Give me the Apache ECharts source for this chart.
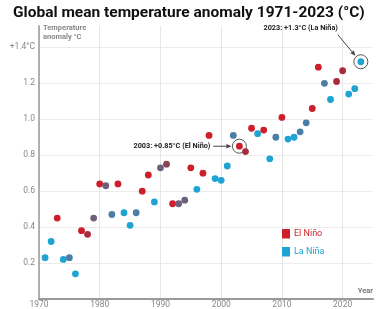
<!DOCTYPE html>
<html>
<head>
<meta charset="utf-8">
<script src="https://cdn.jsdelivr.net/npm/echarts@6/dist/echarts.min.js"></script>
<style>
  html, body { margin: 0; padding: 0; background: #fff; }
  #chart { width: 382px; height: 309px; }
</style>
</head>
<body>
<div id="chart"></div>
<script>
// one point per year, 1971-2023
const years = [
  1971, 1972, 1973, 1974, 1975, 1976, 1977, 1978, 1979, 1980,
  1981, 1982, 1983, 1984, 1985, 1986, 1987, 1988, 1989, 1990,
  1991, 1992, 1993, 1994, 1995, 1996, 1997, 1998, 1999, 2000,
  2001, 2002, 2003, 2004, 2005, 2006, 2007, 2008, 2009, 2010,
  2011, 2012, 2013, 2014, 2015, 2016, 2017, 2018, 2019, 2020,
  2021, 2022, 2023
]
const anomalies = [
  0.23, 0.32, 0.45, 0.22, 0.23, 0.14, 0.38, 0.36, 0.45, 0.64,
  0.63, 0.47, 0.64, 0.48, 0.41, 0.48, 0.60, 0.69, 0.54, 0.73,
  0.75, 0.53, 0.53, 0.55, 0.73, 0.61, 0.70, 0.91, 0.67, 0.66,
  0.74, 0.91, 0.85, 0.82, 0.95, 0.92, 0.94, 0.78, 0.90, 1.01,
  0.89, 0.90, 0.93, 0.98, 1.06, 1.29, 1.20, 1.11, 1.21, 1.27,
  1.14, 1.17, 1.32
]
// E = El Niño, e = weak El Niño, m / n = neutral, l = weak La Niña, L = La Niña
const enso = [
  'L', 'L', 'E', 'L', 'l', 'L', 'E', 'e', 'n', 'E',
  'n', 'l', 'E', 'L', 'L', 'l', 'E', 'E', 'L', 'n',
  'm', 'E', 'n', 'n', 'E', 'L', 'E', 'E', 'L', 'L',
  'L', 'l', 'E', 'e', 'E', 'L', 'E', 'L', 'l', 'E',
  'L', 'L', 'l', 'l', 'E', 'E', 'l', 'L', 'e', 'e',
  'L', 'L', 'L'
]
const xTicks = [1970, 1980, 1990, 2000, 2010, 2020]
const yTicks = [0.2, 0.4, 0.6, 0.8, 1.0, 1.2, 1.4]
const highlighted = [2003, 2023]
const notes = ['2003: +0.85°C (El Niño)', '2023: +1.3°C (La Niña)']

const ensoColors = {
  E: '#cc1f2a',
  e: '#a92c3c',
  m: '#8a4257',
  n: '#6f6079',
  l: '#4a7ea5',
  L: '#1ea3d3'
}
const RED = '#cc1f2a'
const BLUE = '#1ea3d3'
const FONT = 'Roboto'

const points = years.map((y, i) => ({
  value: [y, anomalies[i]],
  itemStyle: { color: ensoColors[enso[i]], opacity: 1 }
}))
const rings = highlighted.map(y => [y, anomalies[years.indexOf(y)]])

const option = {
  animation: false,
  textStyle: { fontFamily: FONT },
  title: {
    text: 'Global mean temperature anomaly 1971-2023 (°C)',
    left: 13,
    top: 5,
    padding: 0,
    textStyle: { fontFamily: FONT, fontSize: 15.5, fontWeight: 'bold', color: '#111' }
  },
  grid: { left: 39, right: 9, top: 25.8, bottom: 9 },
  xAxis: {
    type: 'value',
    min: 1970,
    max: 2025,
    interval: 10,
    axisLine: { lineStyle: { color: '#9a9a9a', width: 2 } },
    axisTick: { show: false },
    axisLabel: {
      color: '#888', fontSize: 8.5, margin: 1, showMaxLabel: false,
      formatter: v => xTicks.includes(v) ? String(v) : ''
    },
    splitLine: {
      show: true,
      lineStyle: { color: ['#e6e6e6', '#e6e6e6', '#e6e6e6', '#e6e6e6', '#e6e6e6', '#e6e6e6', 'rgba(0,0,0,0)'], width: 1 }
    }
  },
  yAxis: {
    type: 'value',
    min: 0,
    max: 1.52,
    interval: 0.2,
    axisLine: { show: true, lineStyle: { color: '#9a9a9a', width: 1.5 } },
    axisTick: { show: false },
    axisLabel: {
      color: '#888', fontSize: 8.5, margin: 4,
      formatter: v => {
        const t = yTicks.find(k => Math.abs(k - v) < 1e-6)
        if (t === undefined) return ''
        return t === 1.4 ? '+1.4°C' : t.toFixed(1)
      }
    },
    splitLine: {
      lineStyle: { color: ['#ececec', '#ececec', '#ececec', '#ececec', '#ececec', '#ececec', '#ececec', '#ececec', 'rgba(0,0,0,0)'], width: 1 }
    }
  },
  series: [
    {
      type: 'scatter',
      data: points,
      symbolSize: 6.8,
      z: 3
    },
    {
      type: 'scatter',
      data: rings,
      symbol: 'circle',
      symbolSize: 14,
      itemStyle: { color: 'rgba(0,0,0,0)', borderColor: '#555', borderWidth: 1, opacity: 1 },
      z: 2,
      silent: true
    }
  ]
}

const chart = echarts.init(document.getElementById('chart'))
chart.setOption(option)

// arrow from a to b with a small filled head
const arrow = (a, b) => {
  const ang = Math.atan2(b[1] - a[1], b[0] - a[0])
  const len = 5
  const w = 2.2
  const back = [b[0] - len * Math.cos(ang), b[1] - len * Math.sin(ang)]
  const nx = -Math.sin(ang) * w
  const ny = Math.cos(ang) * w
  return [
    { type: 'line', shape: { x1: a[0], y1: a[1], x2: back[0], y2: back[1] }, style: { stroke: '#444', lineWidth: 1 } },
    { type: 'polygon', shape: { points: [b, [back[0] + nx, back[1] + ny], [back[0] - nx, back[1] - ny]] }, style: { fill: '#444' } }
  ]
}

const p03 = chart.convertToPixel({ gridIndex: 0 }, rings[0])
const p23 = chart.convertToPixel({ gridIndex: 0 }, rings[1])
const noteStyle = { fill: '#222', fontFamily: FONT, fontSize: 7.3, fontWeight: 'bold', textVerticalAlign: 'middle' }

const graphics = [
  {
    type: 'text', left: 43, top: 24,
    style: { text: 'Temperature\nanomaly °C', fill: '#888', fontFamily: FONT, fontSize: 7.5, fontWeight: 'bold', lineHeight: 9 }
  },
  {
    type: 'text', right: 9, top: 287,
    style: { text: 'Year', fill: '#777', fontFamily: FONT, fontSize: 7.5, fontWeight: 'bold' }
  },
  { type: 'rect', shape: { x: 282, y: 229, width: 8, height: 9.5 }, style: { fill: RED } },
  { type: 'text', x: 294, y: 234, style: { text: 'El Niño', fill: RED, fontFamily: FONT, fontSize: 9, textVerticalAlign: 'middle' } },
  { type: 'rect', shape: { x: 282, y: 247, width: 8, height: 9.5 }, style: { fill: BLUE } },
  { type: 'text', x: 294, y: 252, style: { text: 'La Niña', fill: BLUE, fontFamily: FONT, fontSize: 9, textVerticalAlign: 'middle' } },
  { type: 'text', x: p03[0] - 29, y: p03[1], style: Object.assign({ text: notes[0], textAlign: 'right' }, noteStyle) },
  { type: 'text', x: p23[0] - 23, y: p23[1] - 34, style: Object.assign({ text: notes[1], textAlign: 'right' }, noteStyle) }
]
  .concat(arrow([p03[0] - 26, p03[1]], [p03[0] - 8, p03[1]]))
  .concat(arrow([p23[0] - 23, p23[1] - 27], [p23[0] - 5.5, p23[1] - 6]))

chart.setOption({ graphic: graphics })
</script>
</body>
</html>
